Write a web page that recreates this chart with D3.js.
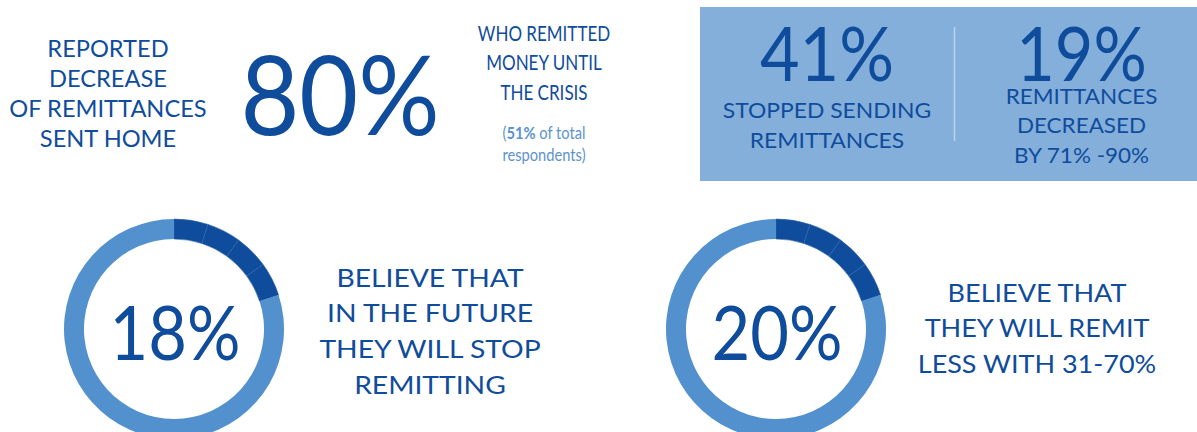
<!DOCTYPE html>
<html><head><meta charset="utf-8">
<script src="https://cdn.jsdelivr.net/npm/d3@7"></script>
<style>
html,body{margin:0;padding:0;background:#fff;}
svg{display:block;}
text{font-family:Lato,"Open Sans",sans-serif;}
</style></head>
<body>
<svg id="c" width="1197" height="432"></svg>
<script>
// ---- data ----
const headlineLabels = ["REPORTED", "DECREASE", "OF REMITTANCES", "SENT HOME"];
const headlineValue = 80;
const remitterLabels = ["WHO REMITTED", "MONEY UNTIL", "THE CRISIS"];
const remitterShare = 51;
const remitterNote = ["of total", "respondents)"];
const boxValues = [41, 19];
const boxLabels = [["STOPPED SENDING", "REMITTANCES"], ["REMITTANCES", "DECREASED", "BY 71% -90%"]];
const donutValues = [18, 20];
const donutArcSegments = [5, 5, 5, 5];       // highlighted arc, drawn in four pieces
const donutLabels = [["BELIEVE THAT", "IN THE FUTURE", "THEY WILL STOP", "REMITTING"],
                     ["BELIEVE THAT", "THEY WILL REMIT", "LESS WITH 31-70%"]];

// ---- style ----
const DARK = "#0f4c9b", LIGHT = "#5291cd", BOX = "#84afdb", NOTE = "#5b93d0";
const svg = d3.select("#c");
const fmt = v => v + "%";

// block of centred lines, horizontally scaled by sx about its centre
function lines(arr, x, y0, dy, size, color, sx) {
  const g = svg.append("g").attr("transform", `translate(${x},0) scale(${sx},1)`);
  g.selectAll(null).data(arr).join("text")
    .attr("x", 0).attr("y", (d, i) => y0 + i * dy)
    .attr("text-anchor", "middle").attr("font-size", size)
    .attr("fill", color).text(d => d);
  return g;
}
function big(txt, x, y, size, sx) {
  const g = svg.append("g").attr("transform", `translate(${x},0) scale(${sx},1)`);
  g.append("text").attr("x", 0).attr("y", y).attr("text-anchor", "middle")
    .attr("font-size", size).attr("fill", DARK).text(txt);
  return g;
}

// left headline
lines(headlineLabels, 108, 57.5, 29.7, 22.3, DARK, 1.06);
big(fmt(headlineValue), 340, 135, 111, 0.915);

// remitters
lines(remitterLabels, 544, 40.7, 29.7, 20.5, DARK, 0.83);
const ng = svg.append("g").attr("transform", "translate(544,0) scale(0.9,1)");
const note = ng.append("text").attr("x", 0).attr("y", 139).attr("text-anchor", "middle")
  .attr("font-size", 16.3).attr("fill", NOTE);
note.append("tspan").text("(");
note.append("tspan").attr("font-weight", 700).text(fmt(remitterShare));
note.append("tspan").text(" " + remitterNote[0]);
ng.append("text").attr("x", 0).attr("y", 161).attr("text-anchor", "middle")
  .attr("font-size", 16.3).attr("fill", NOTE).text(remitterNote[1]);

// box
svg.append("rect").attr("x", 700).attr("y", 7).attr("width", 497).attr("height", 174).attr("fill", BOX);
svg.append("line").attr("x1", 954.5).attr("x2", 954.5).attr("y1", 27).attr("y2", 141)
  .attr("stroke", "#bcd3ec").attr("stroke-width", 1.5);
const boxX = d3.scalePoint().domain(d3.range(boxValues.length)).range([827, 1081.5]);
boxValues.forEach((v, i) => {
  big(fmt(v), boxX(i), 81.5, 76, i === 0 ? 0.9 : 0.875);
  if (i === 0) lines(boxLabels[i], boxX(i), 118.3, 29.4, 21.8, DARK, 1.05);
  else lines(boxLabels[i], boxX(i), 104.3, 29.2, 21, DARK, 1.07);
});

// donuts
const donutX = d3.scalePoint().domain(d3.range(donutValues.length)).range([174, 776]);
const labelX = [430, 1037], labelY0 = [286.7, 301.7], labelSx = [1.1, 1.05];
const cy = 329, rO = 110, rI = 90;
const arc = d3.arc().innerRadius(rI).outerRadius(rO);
const pie = d3.pie().sort(null).value(d => d.v);
donutValues.forEach((v, i) => {
  const g = svg.append("g").attr("transform", `translate(${donutX(i)},${cy})`);
  const rest = 100 - d3.sum(donutArcSegments);
  const parts = donutArcSegments.map(s => ({v: s, hi: true})).concat([{v: rest, hi: false}]);
  g.selectAll("path").data(pie(parts)).join("path")
    .attr("d", arc)
    .attr("fill", d => d.data.hi ? DARK : LIGHT)
    .attr("stroke", d => d.data.hi ? "#2f64ad" : "none")
    .attr("stroke-width", 0.6);
  big(fmt(v), donutX(i) + 1, cy + 31, 75, 0.89);
  lines(donutLabels[i], labelX[i], labelY0[i], 35.8, 25.7, DARK, labelSx[i]);
});
</script>
</body></html>
